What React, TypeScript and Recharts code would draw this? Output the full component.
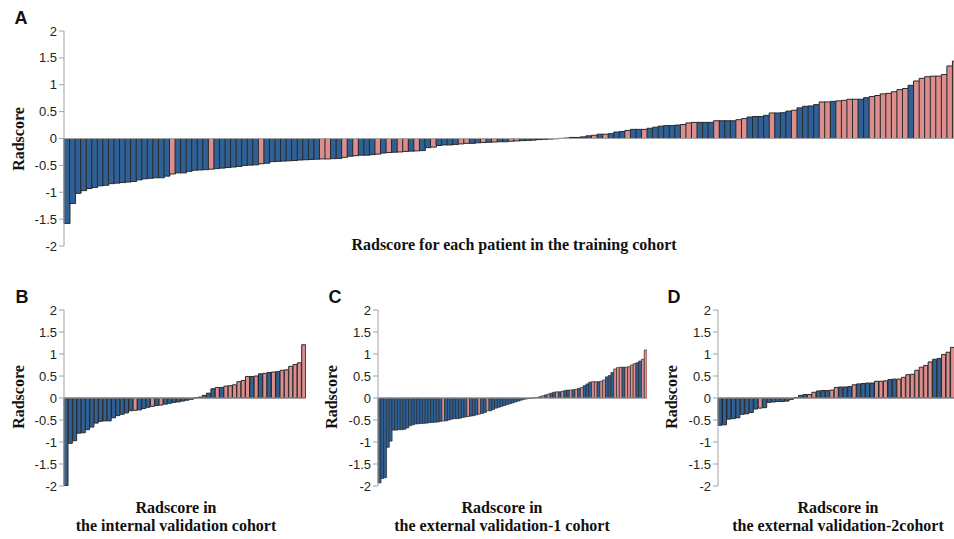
import React from 'react';
import { BarChart, Bar, XAxis, YAxis, Cell, ReferenceLine } from 'recharts';

// radscore per patient, sorted ascending; label 1 = positive class (pink), 0 = negative (blue)
const trainScores = [
  -1.58, -1.21, -1.02, -0.97, -0.93, -0.91, -0.88, -0.87, -0.84, -0.83,
  -0.82, -0.81, -0.8, -0.77, -0.75, -0.74, -0.73, -0.73, -0.7, -0.66,
  -0.64, -0.64, -0.61, -0.59, -0.585, -0.58, -0.57, -0.56, -0.55, -0.54,
  -0.53, -0.52, -0.5, -0.495, -0.49, -0.47, -0.46, -0.43, -0.425, -0.42,
  -0.415, -0.41, -0.4, -0.395, -0.39, -0.385, -0.38, -0.38, -0.375, -0.37,
  -0.35, -0.33, -0.32, -0.31, -0.31, -0.3, -0.29, -0.27, -0.26, -0.255,
  -0.25, -0.24, -0.235, -0.23, -0.225, -0.17, -0.16, -0.13, -0.12, -0.12,
  -0.11, -0.1, -0.09, -0.09, -0.08, -0.075, -0.07, -0.065, -0.06, -0.06,
  -0.05, -0.045, -0.04, -0.035, -0.03, -0.02, -0.015, -0.01, -0.005, 0.003,
  0.008, 0.02, 0.02, 0.03, 0.05, 0.06, 0.08, 0.08, 0.09, 0.12,
  0.13, 0.15, 0.17, 0.17, 0.17, 0.19, 0.21, 0.23, 0.24, 0.24,
  0.25, 0.26, 0.29, 0.3, 0.3, 0.3, 0.3, 0.33, 0.33, 0.33,
  0.33, 0.35, 0.37, 0.4, 0.41, 0.41, 0.43, 0.475, 0.475, 0.48,
  0.51, 0.525, 0.57, 0.6, 0.605, 0.63, 0.68, 0.68, 0.69, 0.7,
  0.71, 0.73, 0.73, 0.73, 0.76, 0.78, 0.8, 0.83, 0.84, 0.87,
  0.91, 0.93, 0.99, 1.07, 1.12, 1.15, 1.16, 1.16, 1.19, 1.35,
  1.44,
];
const trainLabels = [
  0, 0, 0, 0, 0, 0, 0, 0, 0, 0,
  0, 0, 0, 0, 0, 0, 0, 0, 0, 1,
  0, 0, 0, 0, 0, 0, 1, 0, 0, 0,
  0, 0, 0, 0, 0, 1, 0, 0, 0, 0,
  0, 0, 0, 0, 0, 0, 1, 1, 0, 0,
  1, 0, 1, 0, 0, 0, 1, 0, 1, 0,
  1, 1, 0, 1, 0, 0, 1, 0, 0, 0,
  0, 1, 1, 0, 0, 1, 0, 1, 0, 0,
  1, 1, 0, 0, 0, 0, 0, 0, 0, 0,
  0, 1, 1, 0, 0, 1, 0, 1, 0, 0,
  0, 1, 0, 0, 1, 0, 0, 0, 0, 0,
  0, 1, 1, 1, 0, 0, 0, 1, 0, 0,
  0, 1, 1, 0, 0, 0, 0, 1, 0, 0,
  0, 1, 0, 0, 0, 0, 1, 1, 0, 1,
  1, 1, 1, 0, 0, 1, 1, 1, 1, 1,
  1, 1, 0, 1, 1, 1, 1, 1, 1, 1,
  1,
];

const internalScores = [
  -1.99, -1.03, -0.97, -0.8, -0.79, -0.72, -0.66, -0.57, -0.53, -0.52,
  -0.52, -0.45, -0.4, -0.37, -0.34, -0.29, -0.28, -0.27, -0.24, -0.21,
  -0.19, -0.17, -0.16, -0.14, -0.12, -0.1, -0.09, -0.07, -0.05, -0.03,
  0.005, 0.02, 0.06, 0.11, 0.21, 0.24, 0.24, 0.27, 0.28, 0.3,
  0.37, 0.4, 0.49, 0.49, 0.5, 0.55, 0.56, 0.58, 0.59, 0.6,
  0.63, 0.64, 0.72, 0.76, 0.8, 1.21,
];
const internalLabels = [
  0, 0, 0, 0, 0, 0, 0, 0, 0, 0,
  0, 0, 0, 0, 0, 0, 1, 0, 0, 0,
  1, 0, 1, 0, 0, 0, 0, 0, 0, 1,
  0, 0, 0, 0, 0, 1, 0, 1, 1, 1,
  1, 1, 1, 0, 1, 0, 1, 0, 1, 0,
  1, 1, 1, 1, 1, 1,
];

const ext1Scores = [
  -1.93, -1.83, -1.81, -1.12, -0.98, -0.73, -0.73, -0.72, -0.72, -0.71,
  -0.68, -0.63, -0.61, -0.59, -0.585, -0.58, -0.575, -0.57, -0.56, -0.555,
  -0.55, -0.545, -0.53, -0.52, -0.52, -0.5, -0.48, -0.47, -0.47, -0.46,
  -0.44, -0.43, -0.42, -0.41, -0.4, -0.38, -0.365, -0.35, -0.33, -0.29,
  -0.29, -0.26, -0.23, -0.21, -0.19, -0.17, -0.15, -0.13, -0.11, -0.09,
  -0.07, -0.05, -0.03, -0.02, -0.01, -0.005, 0.005, 0.01, 0.03, 0.05,
  0.07, 0.09, 0.11, 0.13, 0.14, 0.14, 0.15, 0.17, 0.18, 0.18,
  0.19, 0.2, 0.22, 0.24, 0.28, 0.32, 0.36, 0.37, 0.37, 0.37,
  0.38, 0.41, 0.48, 0.51, 0.58, 0.66, 0.69, 0.7, 0.7, 0.7,
  0.71, 0.75, 0.78, 0.8, 0.84, 0.88, 1.09,
];
const ext1Labels = [
  0, 0, 0, 0, 0, 0, 0, 0, 0, 0,
  0, 0, 0, 0, 0, 0, 0, 0, 0, 0,
  0, 0, 0, 1, 0, 0, 0, 0, 0, 0,
  0, 0, 1, 0, 0, 0, 1, 0, 0, 1,
  0, 0, 0, 0, 0, 0, 0, 0, 0, 0,
  0, 0, 0, 0, 0, 0, 0, 0, 0, 1,
  0, 1, 0, 0, 1, 0, 1, 0, 0, 1,
  0, 1, 0, 1, 0, 0, 0, 1, 1, 0,
  1, 1, 0, 0, 0, 1, 1, 1, 0, 1,
  1, 1, 1, 0, 0, 1, 1,
];

const ext2Scores = [
  -0.62, -0.61, -0.48, -0.47, -0.45, -0.37, -0.36, -0.33, -0.25, -0.23,
  -0.22, -0.1, -0.09, -0.08, -0.08, -0.07, -0.03, 0.01, 0.06, 0.08,
  0.08, 0.13, 0.16, 0.17, 0.17, 0.18, 0.24, 0.25, 0.25, 0.26,
  0.3, 0.32, 0.33, 0.34, 0.34, 0.38, 0.38, 0.39, 0.42, 0.43,
  0.43, 0.47, 0.53, 0.54, 0.63, 0.7, 0.74, 0.82, 0.88, 0.9,
  0.99, 1.04, 1.15,
];
const ext2Labels = [
  0, 0, 0, 0, 0, 0, 0, 0, 0, 1,
  0, 0, 0, 0, 0, 0, 0, 0, 0, 0,
  1, 1, 0, 0, 0, 1, 1, 0, 0, 0,
  1, 0, 0, 0, 0, 1, 1, 1, 0, 0,
  1, 1, 1, 1, 1, 1, 1, 1, 0, 0,
  1, 1, 1,
];

const yTicks = [-2, -1.5, -1, -0.5, 0, 0.5, 1, 1.5, 2];

const BLUE = '#2f6196';
const PINK = '#dc8d8d';
const SERIF = '"Liberation Serif", "Times New Roman", serif';
const SANS = '"Liberation Sans", Arial, sans-serif';

interface PanelProps {
  scores: number[];
  labels: number[];
  left: number;
  top: number;
  width: number;
  height: number;
  marginTop: number;
  strokeWidth: number;
}

function Waterfall({ scores, labels, left, top, width, height, marginTop, strokeWidth }: PanelProps) {
  const data = scores.map((v, i) => ({ id: i + 1, v, g: labels[i] }));
  return (
    <div style={{ position: 'absolute', left, top }}>
      <BarChart
        width={width}
        height={height}
        data={data}
        margin={{ top: marginTop, right: 0, bottom: 10, left: 0 }}
        barCategoryGap={0}
        barGap={0}
      >
        <XAxis dataKey="id" hide />
        <YAxis
          domain={[-2, 2]}
          ticks={yTicks}
          interval={0}
          width={64}
          stroke="#a3a3a3"
          tickSize={5}
          tickMargin={2}
          tick={{ fontSize: 13, fill: '#222', fontFamily: SANS }}
          allowDataOverflow
        />
        <ReferenceLine y={0} stroke="#a3a3a3" />
        <Bar dataKey="v" isAnimationActive={false} stroke="#2a2a2a" strokeWidth={strokeWidth}>
          {data.map((d, i) => (
            <Cell key={`c-${i}`} fill={d.g ? PINK : BLUE} />
          ))}
        </Bar>
      </BarChart>
    </div>
  );
}

const abs = (x: number, y: number): React.CSSProperties => ({
  position: 'absolute',
  left: x,
  top: y,
  transform: 'translate(-50%, -50%)',
  whiteSpace: 'nowrap',
});

function YLabel({ x, y }: { x: number; y: number }) {
  return (
    <div style={{ ...abs(x, y), transform: 'translate(-50%, -50%) rotate(-90deg)', fontFamily: SERIF, fontWeight: 'bold', fontSize: 16, color: '#111' }}>
      Radscore
    </div>
  );
}

function Letter({ x, y, t }: { x: number; y: number; t: string }) {
  return (
    <div style={{ ...abs(x, y), fontFamily: SANS, fontWeight: 'bold', fontSize: 18, color: '#111' }}>{t}</div>
  );
}

function Title({ x, y, t }: { x: number; y: number; t: string }) {
  return (
    <div style={{ ...abs(x, y), fontFamily: SERIF, fontWeight: 'bold', fontSize: 16, color: '#111' }}>{t}</div>
  );
}

export default function App() {
  return (
    <div style={{ position: 'absolute', left: 0, top: 0, width: 954, height: 539, overflow: 'hidden', background: '#fff' }}>
      <Waterfall scores={trainScores} labels={trainLabels} left={0} top={0} width={958} height={256} marginTop={31} strokeWidth={1} />
      <Waterfall scores={internalScores} labels={internalLabels} left={0} top={300} width={306} height={196} marginTop={10} strokeWidth={1} />
      <Waterfall scores={ext1Scores} labels={ext1Labels} left={314} top={300} width={333} height={196} marginTop={10} strokeWidth={0.7} />
      <Waterfall scores={ext2Scores} labels={ext2Labels} left={654} top={300} width={301} height={196} marginTop={10} strokeWidth={1} />

      <Letter x={21} y={18} t="A" />
      <Letter x={22} y={297} t="B" />
      <Letter x={335} y={297} t="C" />
      <Letter x={674} y={297} t="D" />

      <YLabel x={19} y={139} />
      <YLabel x={19} y={397} />
      <YLabel x={332} y={397} />
      <YLabel x={672} y={397} />

      <Title x={514} y={245} t="Radscore for each patient in the training cohort" />
      <Title x={176} y={508} t="Radscore in" />
      <Title x={176} y={526} t="the internal validation cohort" />
      <Title x={502} y={508} t="Radscore in" />
      <Title x={502} y={526} t="the external validation-1 cohort" />
      <Title x={838} y={508} t="Radscore in" />
      <Title x={838} y={526} t="the external validation-2cohort" />
    </div>
  );
}
